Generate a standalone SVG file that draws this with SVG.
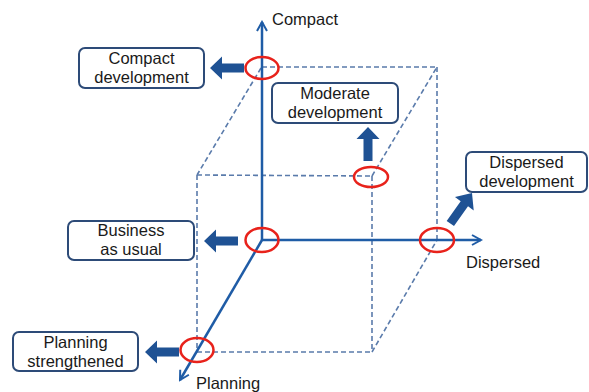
<svg xmlns="http://www.w3.org/2000/svg" width="589" height="392" viewBox="0 0 589 392">
<style>
  .box { fill: #ffffff; stroke: #2d4b78; stroke-width: 2; }
  .lbl { font-family: "Liberation Sans", Arial, sans-serif; font-size: 16.5px; fill: #1a1a1a; text-anchor: middle; }
  .axlbl { font-family: "Liberation Sans", Arial, sans-serif; font-size: 16.5px; fill: #1a1a1a; }
  .axis { stroke: #1f5ca6; stroke-width: 2.5; fill: none; }
  .dash { stroke: #5a7bab; stroke-width: 1.6; stroke-dasharray: 5 3; fill: none; }
  .ring { stroke: #e8221b; stroke-width: 2.5; fill: none; }
  .barrow { fill: #1f5294; }
</style>
<defs>
  <marker id="ah" viewBox="0 0 12 12" refX="10" refY="6" markerWidth="12" markerHeight="12" markerUnits="userSpaceOnUse" orient="auto">
    <polyline points="1,1 10,6 1,11" fill="none" stroke="#1f5ca6" stroke-width="2"/>
  </marker>
  <path id="blk" d="M0,0 L12,-11.5 L12,-4.5 L34,-4.5 L34,4.5 L12,4.5 L12,11.5 Z"/>
</defs>

<g id="connectors">
  <g id="cube">
    <line class="dash" x1="262" y1="67" x2="437" y2="67"/>
    <line class="dash" x1="261" y1="68" x2="197" y2="175"/>
    <line class="dash" x1="197" y1="175" x2="372" y2="176"/>
    <line class="dash" x1="197" y1="175" x2="197" y2="352"/>
    <line class="dash" x1="197" y1="352" x2="372" y2="352"/>
    <line class="dash" x1="372" y1="176" x2="372" y2="352"/>
    <line class="dash" x1="372" y1="176" x2="437" y2="67"/>
    <line class="dash" x1="437" y1="67" x2="437" y2="240"/>
    <line class="dash" x1="372" y1="352" x2="437" y2="240"/>
  </g>
  <g id="axes">
    <line class="axis" x1="262" y1="240" x2="262" y2="22" marker-end="url(#ah)"/>
    <line class="axis" x1="262" y1="240" x2="481" y2="240" marker-end="url(#ah)"/>
    <line class="axis" x1="262" y1="240" x2="180" y2="380" marker-end="url(#ah)"/>
  </g>
  <g id="rings">
    <ellipse class="ring" cx="262" cy="68" rx="16.5" ry="11"/>
    <ellipse class="ring" cx="371" cy="177" rx="17" ry="10"/>
    <ellipse class="ring" cx="437" cy="240" rx="17" ry="12"/>
    <ellipse class="ring" cx="262" cy="240" rx="16.5" ry="12"/>
    <ellipse class="ring" cx="197" cy="350" rx="16.5" ry="12"/>
  </g>
  <g id="block-arrows" class="barrow">
    <use href="#blk" transform="translate(210,68)"/>
    <use href="#blk" transform="translate(204,241)"/>
    <use href="#blk" transform="translate(145,352)"/>
    <use href="#blk" transform="translate(368,127) rotate(90)"/>
    <use href="#blk" transform="translate(472,193) rotate(125.4) scale(1.1,1)"/>
  </g>
</g>

<g id="axis-labels">
  <text class="axlbl" x="272" y="25">Compact</text>
  <text class="axlbl" x="466" y="268">Dispersed</text>
  <text class="axlbl" x="196" y="389">Planning</text>
</g>

<g id="node-compact">
  <rect class="box" x="79" y="48" width="125" height="40" rx="6"/>
  <text class="lbl" x="141.5" y="64">Compact</text>
  <text class="lbl" x="141.5" y="83">development</text>
</g>
<g id="node-moderate">
  <rect class="box" x="272" y="83" width="126" height="40" rx="6"/>
  <text class="lbl" x="335" y="99">Moderate</text>
  <text class="lbl" x="335" y="118">development</text>
</g>
<g id="node-dispersed">
  <rect class="box" x="466" y="152" width="121" height="40" rx="6"/>
  <text class="lbl" x="526.5" y="168">Dispersed</text>
  <text class="lbl" x="526.5" y="187">development</text>
</g>
<g id="node-business">
  <rect class="box" x="68" y="221" width="126" height="39" rx="6"/>
  <text class="lbl" x="131" y="236">Business</text>
  <text class="lbl" x="131" y="255">as usual</text>
</g>
<g id="node-planning">
  <rect class="box" x="13" y="332" width="125" height="39" rx="6"/>
  <text class="lbl" x="75.5" y="348">Planning</text>
  <text class="lbl" x="75.5" y="367">strengthened</text>
</g>
</svg>
